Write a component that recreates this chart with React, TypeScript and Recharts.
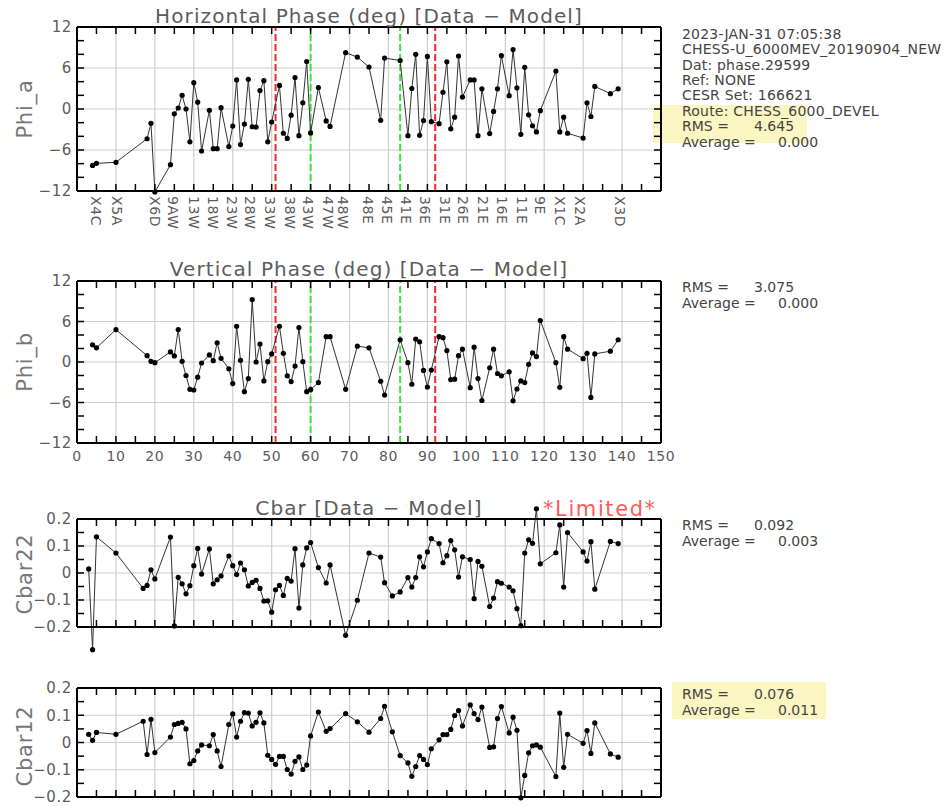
import React from 'react';
import { LineChart, Line, XAxis, YAxis, CartesianGrid, ReferenceLine } from 'recharts';

// detector index of every phase reading
const phaseDet = [4, 5, 10, 18, 19, 20, 24, 25, 26, 27, 28, 29, 30, 31, 32, 34, 35, 36, 37, 39, 40, 41, 42, 43, 44, 45, 46, 47, 48, 49, 50, 52, 53, 54, 55, 56, 57, 58, 59, 60, 62, 64, 65, 69, 72, 75, 78, 79, 83, 85, 86, 87, 88, 89, 90, 91, 93, 94, 95, 96, 97, 98, 99, 101, 102, 103, 104, 106, 107, 108, 109, 111, 112, 113, 114, 115, 116, 117, 118, 119, 123, 124, 125, 126, 130, 131, 132, 133, 137, 139];
const phiA = [-8.25, -7.95, -7.8, -4.35, -2.1, -12.15, -8.15, -0.7, 0.15, 2.0, 0.0, -4.8, 3.85, 1.0, -6.15, -0.2, -5.8, -5.8, 0.2, -5.5, -2.5, 4.25, -5.2, -2.2, 4.35, -2.6, -2.65, 2.7, 4.15, -4.8, -1.9, 3.45, -3.55, -4.3, -0.9, 4.6, -3.9, 0.9, 6.95, -3.5, 3.15, -1.75, -2.55, 8.25, 7.6, 6.15, -1.65, 7.45, 7.1, -3.9, 3.0, 8.0, -3.85, -1.7, 7.7, -1.85, -2.15, 2.45, 6.9, -2.9, -1.2, 7.75, 1.75, 4.25, 4.25, -3.9, 2.95, -3.6, -0.35, 2.95, 7.8, 1.95, 8.7, 3.1, -3.7, 6.1, -0.85, -2.45, -3.35, -0.25, 5.55, -3.35, -1.2, -3.55, -4.25, 0.9, -1.1, 3.3, 2.25, 2.95];
const phiB = [2.55, 2.1, 4.8, 0.93, 0.1, -0.1, 1.5, 0.9, 4.8, 0.1, -2.0, -4.05, -4.15, -2.25, -0.15, 1.05, 0.2, 2.85, 0.55, -1.0, -3.2, 5.3, 0.25, -4.4, -2.45, 9.25, 0.0, 2.65, -2.8, 0.05, 1.2, 5.3, 1.3, -2.05, -2.9, -0.6, 5.1, 0.05, -4.4, -4.1, -3.05, 3.75, 3.75, -4.05, 2.35, 2.1, -2.85, -4.9, 3.3, -0.1, -3.3, 3.4, 3.0, -1.25, -3.7, -1.2, 3.75, 3.6, 1.7, -2.6, -2.55, 0.93, 1.9, -3.8, 2.2, -2.45, -5.7, -0.85, 1.9, -1.7, -2.05, -1.45, -5.75, -4.0, -2.8, -3.05, -0.35, 1.35, 0.8, 6.15, -0.1, -3.75, 3.75, 1.9, 0.5, 1.3, -5.25, 1.2, 1.6, 3.3];

// detector index of every coupling reading
const cbarDet = [3, 4, 5, 10, 17, 18, 19, 20, 24, 25, 26, 27, 28, 29, 30, 31, 32, 34, 35, 36, 37, 39, 40, 41, 42, 43, 44, 45, 46, 47, 48, 49, 50, 51, 52, 53, 54, 55, 56, 57, 58, 59, 60, 62, 64, 65, 69, 72, 75, 78, 79, 81, 83, 85, 86, 87, 88, 89, 90, 91, 93, 94, 95, 96, 97, 98, 99, 101, 102, 103, 104, 106, 107, 108, 109, 111, 112, 113, 114, 115, 116, 117, 118, 119, 123, 124, 125, 126, 130, 131, 132, 133, 137, 139];
const cbar22 = [0.015, -0.284, 0.134, 0.074, -0.057, -0.046, 0.012, -0.022, 0.133, -0.196, -0.016, -0.04, -0.077, -0.047, 0.027, 0.091, -0.004, 0.089, -0.04, -0.025, -0.011, 0.063, 0.027, -0.006, 0.037, 0.012, -0.048, -0.035, -0.027, -0.057, -0.104, -0.103, -0.145, -0.062, -0.046, -0.083, -0.02, -0.03, 0.09, -0.13, 0.03, 0.093, 0.113, 0.02, -0.037, 0.03, -0.231, -0.101, 0.074, 0.059, -0.036, -0.085, -0.07, -0.017, -0.052, -0.017, 0.06, 0.023, 0.078, 0.127, 0.109, 0.038, 0.064, 0.12, 0.086, -0.015, 0.06, 0.05, -0.095, 0.043, 0.025, -0.124, -0.093, -0.032, -0.038, -0.052, -0.066, -0.132, -0.195, 0.074, 0.123, 0.11, 0.238, 0.034, 0.075, 0.178, -0.052, 0.15, 0.078, 0.044, 0.116, -0.06, 0.117, 0.109];
const cbar12 = [0.03, 0.008, 0.037, 0.03, 0.078, -0.044, 0.085, -0.037, 0.02, 0.066, 0.07, 0.074, 0.05, -0.078, -0.066, -0.031, -0.009, -0.012, 0.029, -0.031, -0.088, 0.066, 0.105, 0.02, 0.078, 0.11, 0.108, 0.061, 0.074, 0.109, 0.072, -0.047, -0.062, -0.08, -0.051, -0.051, -0.099, -0.116, -0.069, -0.053, -0.099, -0.083, 0.024, 0.112, 0.041, 0.051, 0.106, 0.076, 0.038, 0.088, 0.133, 0.039, -0.048, -0.075, -0.124, -0.088, -0.048, -0.062, -0.081, -0.023, 0.01, 0.029, 0.029, 0.048, 0.099, 0.117, 0.061, 0.138, 0.106, 0.084, 0.13, -0.018, -0.016, 0.088, 0.132, 0.035, 0.093, 0.045, -0.203, -0.121, -0.038, -0.012, -0.009, -0.017, -0.125, 0.108, -0.091, 0.03, -0.003, 0.044, -0.04, 0.072, -0.042, -0.054];

// axis ticks
const xMinorTicks = [0, 5, 10, 15, 20, 25, 30, 35, 40, 45, 50, 55, 60, 65, 70, 75, 80, 85, 90, 95, 100, 105, 110, 115, 120, 125, 130, 135, 140, 145, 150];
const xGridTicks = [10, 20, 30, 40, 50, 60, 70, 80, 90, 100, 110, 120, 130, 140];
const xNumberLabels = [0, 10, 20, 30, 40, 50, 60, 70, 80, 90, 100, 110, 120, 130, 140, 150];
const stationNames = ['X4C', 'X5A', 'X6D', '9AW', '13W', '18W', '23W', '28W', '33W', '38W', '43W', '47W', '48W', '48E', '45E', '41E', '36E', '31E', '26E', '21E', '16E', '11E', '9E', 'X1C', 'X2A', 'X3D'];
const stationAt = [4.8, 10.2, 20, 24.7, 30.1, 35, 39.7, 44.4, 49.6, 54.7, 59.4, 64.5, 68.4, 74.8, 79.7, 84.5, 89.4, 94.5, 99.2, 104.4, 109.1, 114.2, 118.9, 124.1, 129.3, 139.5];

const phaseTicks = [-12, -10, -8, -6, -4, -2, 0, 2, 4, 6, 8, 10, 12];
const phaseGrid = [-6, 0, 6];
const phaseLabels = [-12, -6, 0, 6, 12];
const cbarTicks = [-0.2, -0.15, -0.1, -0.05, 0, 0.05, 0.1, 0.15, 0.2];
const cbarGrid = [-0.1, 0, 0.1];
const cbarLabels = [-0.2, -0.1, 0, 0.1, 0.2];

const redMarks = [51, 92];
const greenMarks = [60, 83];

const infoLines = ['2023-JAN-31 07:05:38', 'CHESS-U_6000MEV_20190904_NEW', 'Dat: phase.29599', 'Ref: NONE', 'CESR Set: 166621', 'Route: CHESS_6000_DEVEL'];
const rmsValues = ['4.645', '3.075', '0.092', '0.076'];
const avgValues = ['0.000', '0.000', '0.003', '0.011'];

const phaseRows = phaseDet.map((s, i) => ({ s, phiA: phiA[i], phiB: phiB[i] }));
const cbarRows = cbarDet.map((s, i) => ({ s, c22: cbar22[i], c12: cbar12[i] }));

const W = 680;
const FONT = '"DejaVu Sans", sans-serif';
const GRAY = '#5c5c5c';
const TL = 7;
const frame = { stroke: '#000', strokeWidth: 2 };

const fmtY = (v: number) => (v === 0 ? '0' : String(Math.abs(v) < 1 ? v.toFixed(1) : v).replace('-', '\u2212'));

type PanelProps = {
  top: number;
  padTop: number;
  plotH: number;
  padBottom: number;
  rows: any[];
  field: string;
  domain: [number, number];
  yTicks: number[];
  yGrid: number[];
  yLabels: number[];
  bottomTicks: number[];
  bottomLabel?: (v: number, x: number, y: number) => React.ReactNode;
  marks?: boolean;
};

function Panel({ top, padTop, plotH, padBottom, rows, field, domain, yTicks, yGrid, yLabels, bottomTicks, bottomLabel, marks }: PanelProps) {
  const topTick = (p: any) => (
    <line x1={p.x} x2={p.x} y1={p.y} y2={p.y + TL} stroke="#000" strokeWidth={1.5} />
  );
  const bottomTick = (p: any) => {
    const v = p.payload.value;
    return (
      <g>
        {xMinorTicks.includes(v) && <line x1={p.x} x2={p.x} y1={p.y} y2={p.y - TL} stroke="#000" strokeWidth={1.5} />}
        {bottomLabel && bottomLabel(v, p.x, p.y)}
      </g>
    );
  };
  const leftTick = (p: any) => {
    const v = p.payload.value;
    return (
      <g>
        <line x1={p.x} x2={p.x + TL} y1={p.y} y2={p.y} stroke="#000" strokeWidth={1.5} />
        {yLabels.includes(v) && (
          <text x={p.x - 5} y={p.y} dy="0.36em" textAnchor="end" fontSize={15} letterSpacing={0.6} fontFamily={FONT} fill={GRAY}>{fmtY(v)}</text>
        )}
      </g>
    );
  };
  const rightTick = (p: any) => (
    <line x1={p.x} x2={p.x - TL} y1={p.y} y2={p.y} stroke="#000" strokeWidth={1.5} />
  );

  return (
    <div style={{ position: 'absolute', left: 0, top }}>
      <LineChart width={W} height={padTop + plotH + padBottom} data={rows} margin={{ top: 0, right: 0, bottom: 0, left: 0 }}>
        <XAxis xAxisId="g" dataKey="s" type="number" domain={[0, 150]} ticks={xGridTicks} allowDataOverflow hide />
        <YAxis yAxisId="g" type="number" domain={domain} ticks={yGrid} allowDataOverflow hide />
        <CartesianGrid xAxisId="g" yAxisId="g" stroke="#cfcfcf" strokeWidth={1.2} />
        <XAxis xAxisId="t" orientation="top" dataKey="s" type="number" domain={[0, 150]} ticks={xMinorTicks} interval={0}
          allowDataOverflow height={padTop} tickSize={0} tickMargin={0} tickLine={false} axisLine={frame} tick={topTick} />
        <XAxis xAxisId="b" orientation="bottom" dataKey="s" type="number" domain={[0, 150]} ticks={bottomTicks} interval={0}
          allowDataOverflow height={padBottom} tickSize={0} tickMargin={0} tickLine={false} axisLine={frame} tick={bottomTick} />
        <YAxis yAxisId="L" orientation="left" type="number" domain={domain} ticks={yTicks} interval={0} width={77}
          allowDataOverflow tickSize={0} tickMargin={0} tickLine={false} axisLine={frame} tick={leftTick} />
        <YAxis yAxisId="R" orientation="right" type="number" domain={domain} ticks={yTicks} interval={0} width={W - 661}
          allowDataOverflow tickSize={0} tickMargin={0} tickLine={false} axisLine={frame} tick={rightTick} />
        {marks && redMarks.map((m) => (
          <ReferenceLine key={'r' + m} xAxisId="b" yAxisId="L" x={m} stroke="#f02a2a" strokeWidth={2} strokeDasharray="7 3" />
        ))}
        {marks && greenMarks.map((m) => (
          <ReferenceLine key={'g' + m} xAxisId="b" yAxisId="L" x={m} stroke="#3ee03e" strokeWidth={2} strokeDasharray="7 3" />
        ))}
        <Line xAxisId="b" yAxisId="L" type="linear" dataKey={field} stroke="#333" strokeWidth={1}
          dot={{ r: 2.6, fill: '#000', stroke: '#000', strokeWidth: 0 }} activeDot={false} isAnimationActive={false} />
      </LineChart>
    </div>
  );
}

const stationTicks = Array.from(new Set([...xMinorTicks, ...stationAt])).sort((a, b) => a - b);

const stationLabel = (v: number, x: number, y: number) => {
  const i = stationAt.indexOf(v);
  if (i < 0) return null;
  return (
    <text x={x} y={y + 5} transform={`rotate(90 ${x} ${y + 5})`} dominantBaseline="central" fontSize={14} letterSpacing={0.6} fontFamily={FONT} fill={GRAY}>
      {stationNames[i]}
    </text>
  );
};

const numberLabel = (v: number, x: number, y: number) =>
  xNumberLabels.includes(v) ? (
    <text x={x} y={y + 18} textAnchor="middle" fontSize={14} letterSpacing={0.6} fontFamily={FONT} fill={GRAY}>{v}</text>
  ) : null;

function Info({ y, i }: { y: number; i: number }) {
  return (
    <>
      <text x={682} y={y} fontSize={14} fontFamily={FONT} fill="#444">
        <tspan x={682}>RMS =</tspan><tspan x={754}>{rmsValues[i]}</tspan>
      </text>
      <text x={682} y={y + 16} fontSize={14} fontFamily={FONT} fill="#444">
        <tspan x={682}>Average =</tspan><tspan x={778}>{avgValues[i]}</tspan>
      </text>
    </>
  );
}

export default function App() {
  const titleStyle = { fontSize: 20, letterSpacing: 1.1, fontFamily: FONT, fill: GRAY } as const;
  const nameStyle = { fontSize: 21, letterSpacing: 0.8, fontFamily: FONT, fill: '#777' } as const;
  return (
    <div className="cp" style={{ position: 'absolute', left: 0, top: 0, width: 947, height: 806, background: '#fff', overflow: 'hidden' }}>
      <style>{'.cp [clip-path]{clip-path:none !important}'}</style>
      <div style={{ position: 'absolute', left: 653, top: 105, width: 154, height: 38, background: '#fbf6c2' }} />
      <div style={{ position: 'absolute', left: 672, top: 682, width: 154, height: 37, background: '#fbf6c2' }} />

      <Panel top={0} padTop={27} plotH={164} padBottom={49} rows={phaseRows} field="phiA" domain={[-12, 12]}
        yTicks={phaseTicks} yGrid={phaseGrid} yLabels={phaseLabels} bottomTicks={stationTicks} bottomLabel={stationLabel} marks />
      <Panel top={250} padTop={31} plotH={162} padBottom={24} rows={phaseRows} field="phiB" domain={[-12, 12]}
        yTicks={phaseTicks} yGrid={phaseGrid} yLabels={phaseLabels} bottomTicks={xMinorTicks} bottomLabel={numberLabel} marks />
      <Panel top={490} padTop={29} plotH={108} padBottom={30} rows={cbarRows} field="c22" domain={[-0.2, 0.2]}
        yTicks={cbarTicks} yGrid={cbarGrid} yLabels={cbarLabels} bottomTicks={xMinorTicks} />
      <Panel top={670} padTop={18} plotH={109} padBottom={9} rows={cbarRows} field="c12" domain={[-0.2, 0.2]}
        yTicks={cbarTicks} yGrid={cbarGrid} yLabels={cbarLabels} bottomTicks={xMinorTicks} />

      <svg width={947} height={806} style={{ position: 'absolute', left: 0, top: 0, pointerEvents: 'none' }}>
        <text x={369} y={23} textAnchor="middle" style={titleStyle}>Horizontal Phase (deg) [Data {'\u2212'} Model]</text>
        <text x={369} y={276} textAnchor="middle" style={titleStyle}>Vertical Phase (deg) [Data {'\u2212'} Model]</text>
        <text x={369} y={515} textAnchor="middle" style={titleStyle}>Cbar [Data {'\u2212'} Model]</text>
        <text x={543} y={516} style={{ fontSize: 21, letterSpacing: 1.6, fontFamily: FONT, fill: '#ff5a5a' }}>*Limited*</text>

        <text transform="translate(32 109) rotate(-90)" textAnchor="middle" style={nameStyle}>Phi_a</text>
        <text transform="translate(32 362) rotate(-90)" textAnchor="middle" style={nameStyle}>Phi_b</text>
        <text transform="translate(32 574) rotate(-90)" textAnchor="middle" style={nameStyle}>Cbar22</text>
        <text transform="translate(32 746) rotate(-90)" textAnchor="middle" style={nameStyle}>Cbar12</text>

        {infoLines.map((t, i) => (
          <text key={t} x={682} y={39 + i * 15.3} fontSize={14} letterSpacing={0.2} fontFamily={FONT} fill="#444">{t}</text>
        ))}
        <Info y={131} i={0} />
        <Info y={292} i={1} />
        <Info y={530} i={2} />
        <Info y={699} i={3} />
      </svg>
    </div>
  );
}
